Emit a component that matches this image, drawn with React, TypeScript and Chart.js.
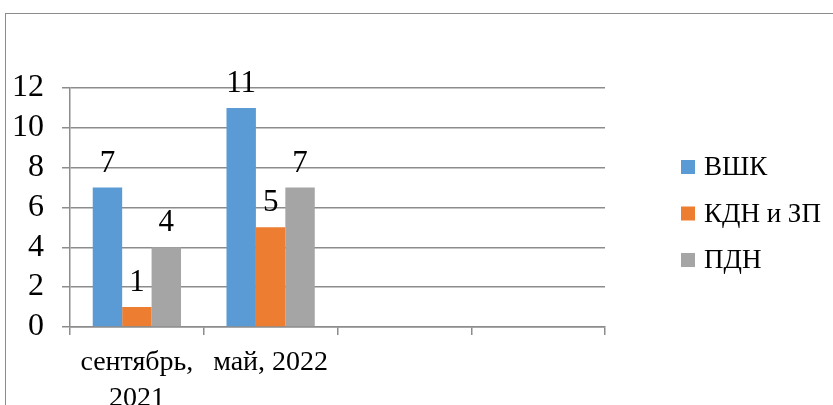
import React, { useEffect, useRef } from "react";
import { Chart, registerables } from "chart.js";

Chart.register(...registerables);

const categories: (string | string[])[] = [["сентябрь,", "2021"], "май, 2022", "", ""];
const seriesNames = ["ВШК", "КДН и ЗП", "ПДН"];
const vshk: (number | null)[] = [7, 11, null, null];
const kdn: (number | null)[] = [1, 5, null, null];
const pdn: (number | null)[] = [4, 7, null, null];
const seriesColors = ["#5B9BD5", "#ED7D31", "#A5A5A5"];
const yMin = 0;
const yMax = 12;
const yStep = 2;

const SERIF = "'Liberation Serif', 'Times New Roman', serif";
const GRID = "#8c8c8c";
const SHIFT = 6;

const valueLabels = {
  id: "valueLabels",
  afterDatasetsDraw(chart: any) {
    const ctx = chart.ctx;
    ctx.save();
    ctx.font = `31px ${SERIF}`;
    ctx.fillStyle = "#000";
    ctx.textAlign = "center";
    ctx.textBaseline = "alphabetic";
    chart.data.datasets.forEach((ds: any, i: number) => {
      const meta = chart.getDatasetMeta(i);
      meta.data.forEach((el: any, j: number) => {
        const v = ds.data[j];
        if (v === null || v === undefined) return;
        ctx.fillText(String(v), el.x, el.y - 16);
      });
    });
    ctx.restore();
  },
};

const sideLegend = {
  id: "sideLegend",
  afterDraw(chart: any) {
    const ctx = chart.ctx;
    const area = chart.chartArea;
    ctx.save();
    ctx.font = `27px ${SERIF}`;
    ctx.textBaseline = "middle";
    ctx.textAlign = "left";
    const startY = 167;
    const gap = 46.5;
    const boxX = area.right + 76;
    chart.data.datasets.forEach((ds: any, i: number) => {
      const cy = startY + i * gap;
      ctx.fillStyle = ds.backgroundColor;
      ctx.fillRect(boxX, cy - 7, 14, 14);
      ctx.fillStyle = "#000";
      ctx.fillText(ds.label, boxX + 23, cy + 1);
    });
    ctx.restore();
  },
};

export default function App() {
  const ref = useRef<HTMLCanvasElement | null>(null);

  useEffect(() => {
    if (!ref.current) return;
    const data = [vshk, kdn, pdn];
    const chart = new Chart(ref.current, {
      type: "bar",
      data: {
        labels: categories,
        datasets: seriesNames.map((name, i) => ({
          label: name,
          data: data[i],
          backgroundColor: seriesColors[i],
          borderWidth: 0,
          categoryPercentage: 0.66,
          barPercentage: 1,
        })),
      },
      options: {
        animation: false,
        responsive: false,
        maintainAspectRatio: false,
        devicePixelRatio: 1,
        layout: { padding: { left: 0, right: 228, top: 88, bottom: 4 } },
        plugins: {
          legend: { display: false },
          tooltip: { enabled: false },
        },
        scales: {
          x: {
            grid: {
              display: true,
              drawOnChartArea: false,
              drawTicks: true,
              tickLength: 8,
              color: GRID,
              lineWidth: 1.5,
            },
            border: { display: true, color: GRID, width: 1.5 },
            ticks: {
              color: "#000",
              font: { family: SERIF, size: 28, lineHeight: 1.27 },
              padding: 10,
              maxRotation: 0,
              autoSkip: false,
            },
          },
          y: {
            min: yMin,
            max: yMax,
            grid: {
              color: GRID,
              lineWidth: 1.5,
              tickLength: 8,
              drawTicks: true,
            },
            border: { display: true, color: GRID, width: 1.5 },
            ticks: {
              stepSize: yStep,
              autoSkip: false,
              color: "#000",
              font: { family: SERIF, size: 32 },
              padding: 18,
            },
          },
        },
      },
      plugins: [valueLabels, sideLegend],
    });
    return () => chart.destroy();
  }, []);

  return (
    <div
      style={{
        position: "fixed",
        left: 0,
        top: 0,
        width: 833,
        height: 405,
        overflow: "hidden",
        background: "#fff",
      }}
    >
      <div
        style={{
          position: "absolute",
          left: 5,
          top: 13,
          width: 1000,
          height: 600,
          border: "1.5px solid #8c8c8c",
          boxSizing: "border-box",
        }}
      />
      <canvas
        ref={ref}
        width={833 + SHIFT}
        height={430}
        style={{ position: "absolute", left: -SHIFT, top: 0, width: 833 + SHIFT, height: 430 }}
      />
    </div>
  );
}
